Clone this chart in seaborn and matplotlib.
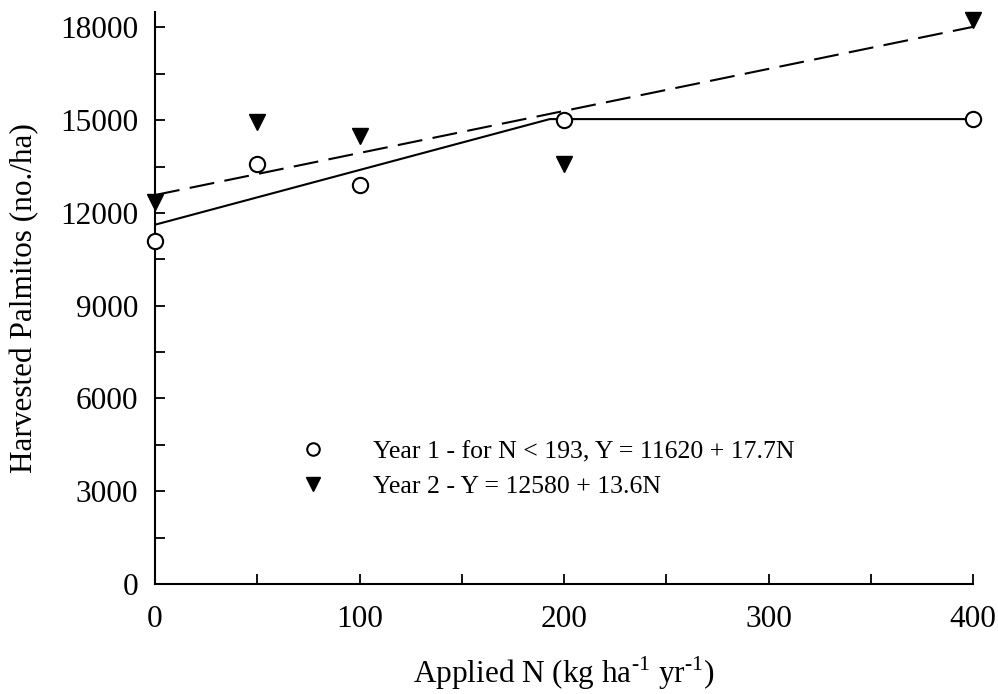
"""Harvested palmitos vs applied N, two years with fitted regressions."""
import numpy as np
import pandas as pd
import seaborn as sns
import matplotlib.pyplot as plt
from matplotlib.lines import Line2D
from matplotlib.ticker import MultipleLocator

n_rates = [0, 50, 100, 200, 400]
year1_vals = [11100, 13600, 12900, 15000, 15050]
year2_vals = [12350, 14950, 14500, 13600, 18250]

# Regression fits given in the legend
y1_icpt, y1_slope, y1_break = 11620, 17.7, 193
y2_icpt, y2_slope = 12580, 13.6

lbl_year1 = "Year 1 - for N < 193, Y = 11620 + 17.7N"
lbl_year2 = "Year 2 - Y = 12580 + 13.6N"

sns.set_style("ticks")
plt.rcParams['font.family'] = ['Liberation Serif', 'DejaVu Serif']
plt.rcParams['mathtext.fontset'] = 'custom'
plt.rcParams['mathtext.rm'] = 'Liberation Serif'
for key in ('text.color', 'axes.labelcolor', 'xtick.color', 'ytick.color',
            'axes.edgecolor'):
    plt.rcParams[key] = 'black'

fig = plt.figure(figsize=(9.98, 6.94), dpi=100)
ax = fig.add_axes([0.1553, 0.1585, 0.8197, 0.8242])

# fitted lines
fit_x1 = [0, y1_break, 400]
fit_y1 = [y1_icpt, y1_icpt + y1_slope * y1_break, y1_icpt + y1_slope * y1_break]
fit_x2 = [0, 400]
fit_y2 = [y2_icpt + y2_slope * x for x in fit_x2]

sns.lineplot(x=fit_x1, y=fit_y1, ax=ax, color='black', lw=1.5)
line2 = sns.lineplot(x=fit_x2, y=fit_y2, ax=ax, color='black', lw=1.5).lines[-1]
line2.set_dashes((12, 5))

dfrm = pd.DataFrame({'xval': n_rates, 'y1': year1_vals, 'y2': year2_vals})
ax.plot(dfrm.xval, dfrm.y1, 'o', ms=11, mfc='white', mec='black', mew=1.5,
        clip_on=False, zorder=5)
ax.plot(dfrm.xval, dfrm.y2, 'v', ms=11, mfc='black', mec='black',
        clip_on=False, zorder=5)

ax.set_xlim(0, 400)
ax.set_ylim(0, 18500)
ax.set_xticks([0, 100, 200, 300, 400])
ax.set_yticks(np.arange(0, 18001, 3000))
ax.xaxis.set_minor_locator(MultipleLocator(50))
ax.yaxis.set_minor_locator(MultipleLocator(1500))
ax.tick_params(which='both', direction='in', length=7, width=1.3, labelsize=22.5)
ax.tick_params(axis='y', pad=12)
ax.tick_params(axis='x', pad=15)
sns.despine(ax=ax)
for side in ('left', 'bottom'):
    ax.spines[side].set_linewidth(1.5)

ax.set_ylabel("Harvested Palmitos (no./ha)", size=22.5)
ax.yaxis.label.set_va('center')
ax.yaxis.set_label_coords(-0.159, 0.5)
ax.set_xlabel(r"Applied N (kg ha$^{\text{-1}}$ yr$^{\text{-1}}$)", size=22.5)
ax.xaxis.label.set_va('baseline')
ax.xaxis.set_label_coords(0.5, -0.173)

handles = [
    Line2D([], [], ls='none', marker='o', ms=9, mfc='white', mec='black', mew=1.5),
    Line2D([], [], ls='none', marker='v', ms=10, mfc='black', mec='black'),
]
ax.legend(handles, [lbl_year1, lbl_year2], loc='upper left',
          bbox_to_anchor=(0.177, 0.2515), frameon=False, fontsize=18.5,
          handlelength=1, handletextpad=1.83, borderpad=0, borderaxespad=0,
          labelspacing=0.45)

fig.savefig("out.png", dpi=100)
